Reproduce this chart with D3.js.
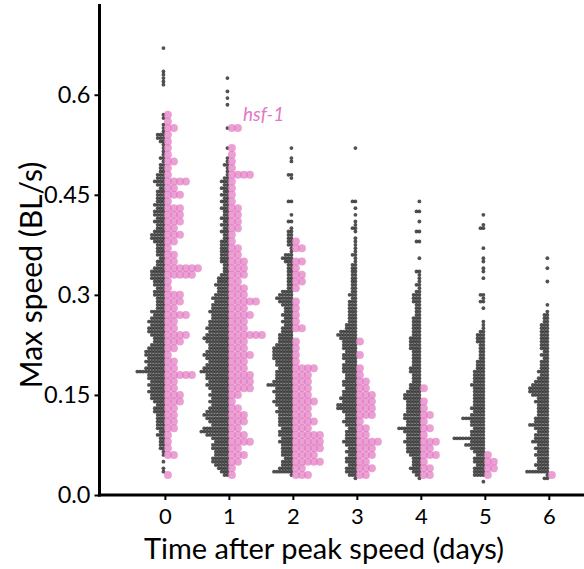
<!DOCTYPE html>
<html><head><meta charset="utf-8">
<script src="https://cdn.jsdelivr.net/npm/d3@7"></script>
<style>body{margin:0;background:#fff}svg{display:block;font-family:Lato,sans-serif}</style>
</head><body><svg id="c" width="584" height="569"></svg>
<script>
// ---------------- data ----------------
const days = [0, 1, 2, 3, 4, 5, 6];
const xTickLabels = ["0", "1", "2", "3", "4", "5", "6"];
const yTicks = [0, 0.15, 0.3, 0.45, 0.6];
const yTickLabels = ["0.0", "0.15", "0.3", "0.45", "0.6"];
const xLabel = "Time after peak speed (days)";
const yLabel = "Max speed (BL/s)";
const hsfLabel = "hsf-1";

// wild type: number of animals per 0.005 BL/s speed bin, first bin at 0.02
const wtBinStart = 0.02, wtBinStep = 0.005;
const wt0 = [0,0,0,1,1,0,1,0,1,1, 2,2,2,2,3,2,3,3,3,3, 3,4,4,3,4,5,5,6,5,6, 5,6,6,10,7,6,7,6,7,7,
  6,5,4,4,5,6,6,5,6,5, 4,5,3,3,3,3,4,4,3,4, 4,5,5,5,4,3,3,2,3,3, 3,3,4,5,5,4,3,3,4,3,
  4,4,3,4,3,3,3,3,2,3, 4,3,3,2,2,2,1,2,1,1, 1,1,2,3,3,1,1,1,0,1, 1,0,0,0,0,0,0,0,0,1,
  1,1,1,1,0,0,0,0,0,0, 1];
const wt1 = [0,0,2,3,4,5,6,6,5,5, 6,6,5,6,8,10,9,6,7,8, 9,8,7,6,7,6,7,6,7,8, 7,8,8,10,9,8,7,8,9,8,
  7,7,8,9,8,7,8,7,7,6, 6,7,6,6,5,6,5,4,4,5, 4,4,3,2,2,2,3,3,3,3, 3,3,3,2,2,3,2,3,2,3,
  2,2,3,2,3,2,3,2,3,2, 3,2,1,1,1,2,1,1,0,0, 1,0,0,0,0,0,1,0,0,0, 0,0,0,1,0,1,0,1,0,0,
  0,1];
const wt2 = [0,0,1,7,5,4,4,3,4,4, 4,4,5,4,5,5,4,5,5,5, 5,6,5,6,7,6,6,7,6,9, 7,6,6,6,5,6,6,7,7,7,
  7,6,5,5,5,4,4,3,4,3, 4,3,3,4,5,6,5,4,2,2, 2,2,2,2,2,2,3,4,3,1, 1,2,2,2,2,2,1,0,2,0,
  1,0,0,0,2,0,0,0,0,0, 0,1,2,0,0,0,1,1,0,0, 1];
const wt3 = [0,1,3,4,4,3,4,4,3,4, 3,4,5,4,4,4,3,4,5,4, 4,5,7,7,5,6,5,5,4,5, 5,4,4,5,5,5,4,5,5,4,
  5,5,5,6,7,6,4,4,3,3, 3,3,3,3,3,2,3,2,2,2, 2,2,2,2,2,2,1,1,2,1, 1,1,1,1,0,1,2,1,1,0,
  1,0,1,0,2,0,0,0,0,0, 0,0,0,0,0,0,0,0,0,0, 1];
const wt4 = [0,1,2,3,4,3,3,3,4,5, 5,5,6,5,5,6,8,5,5,6, 6,5,5,5,5,6,6,5,4,4, 3,3,3,4,4,3,3,3,3,3,
  4,4,4,4,3,3,3,3,3,3, 2,2,2,2,3,3,3,2,1,2, 1,1,1,2,0,0,0,1,0,0, 0,0,2,0,0,2,0,0,1,0,
  0,2,0,0,1];
const wt5 = [1,0,4,4,4,3,4,4,3,4, 5,7,5,11,5,5,4,5,5,8, 5,4,5,4,4,4,4,4,4,5, 4,4,4,4,3,3,3,2,2,2,
  2,2,3,3,3,2,1,1,1,0, 0,0,1,0,2,1,2,0,0,0, 0,1,0,1,1,0,1,1,0,0, 1,0,0,0,0,0,2,1,0,0,
  1];
const wt6 = [0,2,1,8,4,5,4,4,5,4, 5,4,6,5,5,4,5,7,5,5, 4,4,4,4,5,4,6,7,7,6, 5,4,3,4,3,3,3,2,3,2,
  3,3,3,3,3,3,3,3,2,2, 2,1,0,1,0,0,0,0,0,0, 1,0,0,0,1,0,0,1];

// hsf-1: number of animals per 0.01 BL/s speed bin, first bin at 0.03
const hsfBinStart = 0.03, hsfBinStep = 0.01;
const hsf0 = [1,0,0,2,1,1,1,2,2,2, 2,3,3,2,2,5,2,2,1,2, 3,4,2,2,4,2,3,3,1,1, 5,6,2,2,1,2,3,2,3,3,
  3,1,3,2,4,1,1,2,1,1, 1,1,2,1,1];
const hsf1 = [1,1,2,3,2,4,3,2,3,3, 2,1,2,4,4,4,3,3,4,3, 3,6,3,3,4,3,5,3,3,2, 3,3,3,2,2,1,1,2,2,2,
  2,1,1,1,1,4,1,1,1,1, 0,0,2];
const hsf2 = [3,2,5,4,5,5,5,3,4,3, 3,4,3,3,3,3,4,1,1,1, 1,0,2,1,1,1,1,0,1,2, 2,1,2,0,2,1];
const hsf3 = [2,3,2,3,3,4,2,2,1,3, 3,3,3,2,2,1,1,0,1,0, 1];
const hsf4 = [2,2,1,3,2,3,1,2,1,2, 1,1,0,1];
const hsf5 = [1,2,2,1];
const hsf6 = [1];

const wtCounts = [wt0, wt1, wt2, wt3, wt4, wt5, wt6];
const hsfCounts = [hsf0, hsf1, hsf2, hsf3, hsf4, hsf5, hsf6];

// ---------------- chart ----------------
const svg = d3.select("#c");
const x = d3.scaleLinear().domain([-1.03, 6.55]).range([99, 584]);
const y = d3.scaleLinear().domain([0, 0.736]).range([495, 4]);

function expand(counts, start, step) {
  const out = [];
  counts.forEach((c, i) => { const v = +(start + i * step).toFixed(4); for (let k = 0; k < c; k++) out.push(v); });
  return out;
}

// one-sided beeswarm: dir = -1 to the left, +1 to the right of the category centre
function swarm(values, cx, dir, diam) {
  const pts = values.map(v => ({ v, py: y(v) })).sort((a, b) => b.v - a.v);
  const placed = [];
  const d2 = diam * diam;
  for (const p of pts) {
    const near = placed.filter(q => Math.abs(q.py - p.py) < diam);
    const cands = [0];
    near.forEach(q => {
      const dx = Math.sqrt(Math.max(0, d2 - (q.py - p.py) ** 2));
      cands.push(q.off + dx, q.off - dx);
    });
    const sorted = cands.filter(c => c >= 0).sort((a, b) => a - b);
    let off = 0;
    for (const c of sorted) {
      if (near.every(q => (q.off - c) ** 2 + (q.py - p.py) ** 2 >= d2 - 1e-6)) { off = c; break; }
    }
    p.off = off;
    placed.push(p);
  }
  return pts.map(p => ({ v: p.v, px: cx + dir * (diam / 2 + p.off), py: p.py }));
}

const wtPts = [], hsfPts = [];
days.forEach((d, i) => {
  swarm(expand(wtCounts[i], wtBinStart, wtBinStep), x(d), -1, 2.9).forEach(p => wtPts.push(p));
  swarm(expand(hsfCounts[i], hsfBinStart, hsfBinStep), x(d), 1, 6.0).forEach(p => hsfPts.push(p));
});

svg.append("g").selectAll("circle").data(wtPts).join("circle")
  .attr("cx", p => p.px).attr("cy", p => p.py).attr("r", 1.9)
  .attr("fill", "#262626").attr("fill-opacity", 0.8);

svg.append("g").selectAll("circle").data(hsfPts).join("circle")
  .attr("cx", p => p.px).attr("cy", p => p.py).attr("r", 4.0)
  .attr("fill", "#e377c2").attr("fill-opacity", 0.7);

// axes
const yAxis = d3.axisLeft(y).tickValues(yTicks).tickFormat((d, i) => yTickLabels[i]).tickSize(5).tickPadding(4);
const gy = svg.append("g").attr("transform", "translate(99.5,0)").call(yAxis);
gy.select(".domain").remove();
gy.selectAll(".tick line").attr("stroke", "#000").attr("stroke-width", 2);
gy.selectAll(".tick text").attr("font-size", 23.5).attr("font-family", "Lato").attr("fill", "#000");

const xAxis = d3.axisBottom(x).tickValues(days).tickFormat((d, i) => xTickLabels[i]).tickSize(5).tickPadding(8);
const gx = svg.append("g").attr("transform", "translate(0,495)").call(xAxis);
gx.select(".domain").remove();
gx.selectAll(".tick line").attr("stroke", "#000").attr("stroke-width", 2);
gx.selectAll(".tick text").attr("font-size", 22).attr("font-family", "Lato").attr("fill", "#000");

svg.append("line").attr("x1", 99.5).attr("x2", 99.5).attr("y1", 4).attr("y2", 496.5)
  .attr("stroke", "#000").attr("stroke-width", 3);
svg.append("line").attr("x1", 98).attr("x2", 584).attr("y1", 495).attr("y2", 495)
  .attr("stroke", "#000").attr("stroke-width", 3);

svg.append("text").attr("x", 324).attr("y", 558.5).attr("text-anchor", "middle")
  .attr("font-size", 29).attr("font-family", "Lato").attr("fill", "#000").text(xLabel);
svg.append("text").attr("transform", "translate(42,275) rotate(-90)").attr("text-anchor", "middle")
  .attr("font-size", 30).attr("font-family", "Lato").attr("fill", "#000").text(yLabel);
svg.append("text").attr("x", 243).attr("y", 121).attr("font-size", 19).attr("font-style", "italic")
  .attr("font-family", "Lato").attr("fill", "#e377c2").text(hsfLabel);
</script></body></html>
